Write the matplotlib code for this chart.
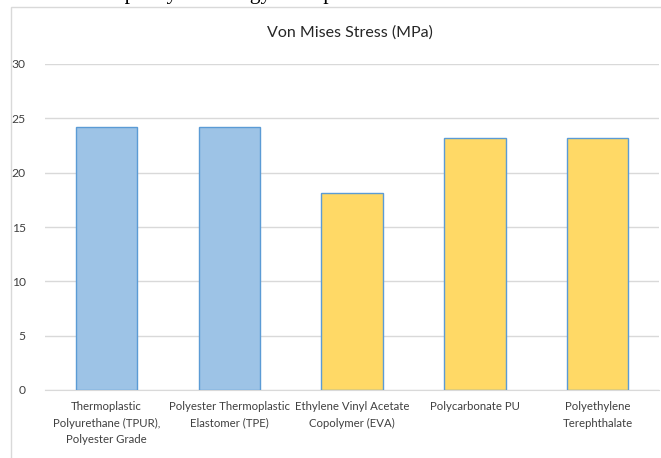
import matplotlib
matplotlib.use('Agg')
from matplotlib import pyplot as plt
from matplotlib.patches import Rectangle

categories = ['Thermoplastic\nPolyurethane (TPUR),\nPolyester Grade',
              'Polyester Thermoplastic\nElastomer (TPE)',
              'Ethylene Vinyl Acetate\nCopolymer (EVA)',
              'Polycarbonate PU',
              'Polyethylene\nTerephthalate']
stress = [24.2, 24.2, 18.1, 23.2, 23.2]
bar_colors = ['#9DC3E6', '#9DC3E6', '#FFD966', '#FFD966', '#FFD966']
yticks = [0, 5, 10, 15, 20, 25, 30]

plt.rcParams['font.family'] = ['Lato', 'DejaVu Sans']

fig = plt.figure(figsize=(6.61, 4.58), dpi=100)

# outer chart frame (cut off at right / bottom)
fig.patches.append(Rectangle((11 / 661, -0.1), 1.2, 1 - 7 / 458 + 0.1,
                             transform=fig.transFigure, fill=False,
                             edgecolor='#D9D9D9', linewidth=1.0))

# bit of the document text above the chart
fig.text(-0.002, 1 + 1 / 458, 'but reduced capacity for energy absorption.',
         family='Liberation Serif', fontsize=15.5, ha='left', va='baseline')

ax = fig.add_axes([45 / 661, 1 - 390 / 458, 614 / 661, 326 / 458])
x = range(len(categories))
ax.bar(x, stress, width=0.5, color=bar_colors, edgecolor='#5B9BD5',
       linewidth=1.0, zorder=3)

ax.set_xlim(-0.5, len(categories) - 0.5)
ax.set_ylim(0, 30)
ax.set_yticks(yticks)
ax.set_xticks(list(x))
ax.set_xticklabels(categories, fontsize=8.2, color='#404040', linespacing=1.6)
ax.tick_params(axis='y', labelsize=8.7, labelcolor='#404040', length=0, pad=14)
ax.tick_params(axis='x', length=0, pad=8)
ax.grid(axis='y', color='#D9D9D9', linewidth=1.0, zorder=0)
for side in ['top', 'right', 'left']:
    ax.spines[side].set_visible(False)
ax.spines['bottom'].set_color('#D9D9D9')

fig.text(350 / 661, 1 - 33 / 458, 'Von Mises Stress (MPa)', fontsize=11.5,
         color='#262626', ha='center', va='center')

fig.savefig('out.png', dpi=100)
